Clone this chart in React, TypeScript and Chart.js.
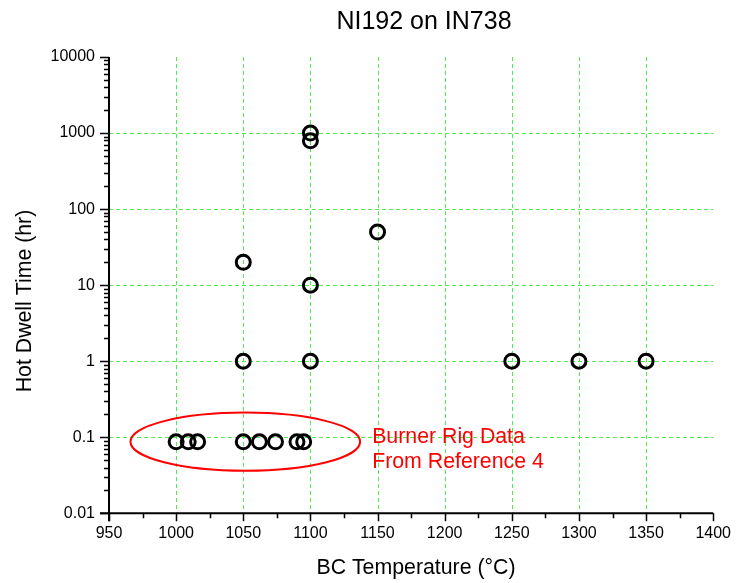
import React, { useEffect, useRef } from "react";
import { Chart, registerables } from "chart.js";

Chart.register(...registerables);

const chartTitle = "NI192 on IN738";
const xAxisTitle = "BC Temperature (°C)";
const yAxisTitle = "Hot Dwell Time (hr)";

const xTickValues = [950, 1000, 1050, 1100, 1150, 1200, 1250, 1300, 1350, 1400];
const yTickValues = [0.01, 0.1, 1, 10, 100, 1000, 10000];
const yTickLabels = ["0.01", "0.1", "1", "10", "100", "1000", "10000"];

const burnerTemps = [1000, 1009, 1016, 1050, 1062, 1074, 1090, 1095];
const burnerDwell = [0.087, 0.087, 0.087, 0.087, 0.087, 0.087, 0.087, 0.087];

const otherTemps = [1050, 1050, 1100, 1100, 1100, 1100, 1150, 1250, 1300, 1350];
const otherDwell = [1, 20, 1, 10, 790, 1000, 50, 1, 1, 1];

const noteLines = ["Burner Rig Data", "From Reference 4"];
// ellipse bounds in data units
const ellipseX = [966, 1137];
const ellipseY = [0.0363, 0.211];
const noteX = 1146;
const noteY = [0.0848, 0.039];

const FONT = "'Liberation Sans', Arial, sans-serif";
const GRID = "rgb(80,235,80)";

const gridPlugin = {
  id: "customGrid",
  beforeDatasetsDraw(chart: any) {
    const ctx = chart.ctx;
    const xs = chart.scales.x;
    const ys = chart.scales.y;
    const area = chart.chartArea;
    ctx.save();
    ctx.strokeStyle = GRID;
    ctx.lineWidth = 1;
    ctx.setLineDash([4, 3]);
    ctx.beginPath();
    xTickValues.slice(1, -1).forEach((v) => {
      const px = Math.round(xs.getPixelForValue(v)) + 0.5;
      ctx.moveTo(px, area.top);
      ctx.lineTo(px, area.bottom);
    });
    yTickValues.slice(1, -1).forEach((v) => {
      const py = Math.round(ys.getPixelForValue(v)) + 0.5;
      ctx.moveTo(area.left, py);
      ctx.lineTo(area.right, py);
    });
    ctx.stroke();
    ctx.restore();
  },
};

const decorPlugin = {
  id: "decor",
  afterDraw(chart: any) {
    const ctx = chart.ctx;
    const xs = chart.scales.x;
    const ys = chart.scales.y;
    const area = chart.chartArea;
    ctx.save();
    // axes lines
    ctx.strokeStyle = "#000";
    ctx.lineWidth = 2;
    ctx.beginPath();
    ctx.moveTo(area.left - 9, area.bottom);
    ctx.lineTo(area.right, area.bottom);
    ctx.moveTo(area.left, area.top);
    ctx.lineTo(area.left, area.bottom + 8);
    ctx.stroke();
    // ticks
    ctx.lineWidth = 1.5;
    ctx.beginPath();
    for (let v = xTickValues[0]; v <= xTickValues[xTickValues.length - 1]; v += 25) {
      const px = Math.round(xs.getPixelForValue(v)) + 0.5;
      const major = xTickValues.includes(v);
      ctx.moveTo(px, area.bottom);
      ctx.lineTo(px, area.bottom + (major ? 8 : 5));
    }
    for (let d = 0; d < yTickValues.length; d++) {
      const base = yTickValues[d];
      const py = Math.round(ys.getPixelForValue(base)) + 0.5;
      ctx.moveTo(area.left, py);
      ctx.lineTo(area.left - 9, py);
      if (d < yTickValues.length - 1) {
        for (let m = 2; m <= 9; m++) {
          const pm = Math.round(ys.getPixelForValue(base * m)) + 0.5;
          ctx.moveTo(area.left + 1, pm);
          ctx.lineTo(area.left - 5, pm);
        }
      }
    }
    ctx.stroke();

    // ellipse
    const x1 = xs.getPixelForValue(ellipseX[0]);
    const x2 = xs.getPixelForValue(ellipseX[1]);
    const y1 = ys.getPixelForValue(ellipseY[0]);
    const y2 = ys.getPixelForValue(ellipseY[1]);
    ctx.strokeStyle = "#ff0000";
    ctx.lineWidth = 2;
    ctx.beginPath();
    ctx.ellipse((x1 + x2) / 2, (y1 + y2) / 2, Math.abs(x2 - x1) / 2, Math.abs(y1 - y2) / 2, 0, 0, Math.PI * 2);
    ctx.stroke();

    // note text
    ctx.fillStyle = "#ff0000";
    ctx.font = `21.3px ${FONT}`;
    ctx.textAlign = "left";
    ctx.textBaseline = "alphabetic";
    noteLines.forEach((t, i) => {
      ctx.fillText(t, xs.getPixelForValue(noteX), ys.getPixelForValue(noteY[i]));
    });

    // title
    ctx.fillStyle = "#000";
    ctx.font = `25px ${FONT}`;
    ctx.textAlign = "center";
    ctx.fillText(chartTitle, 424, 29);

    // x title
    ctx.font = `21.3px ${FONT}`;
    ctx.fillText(xAxisTitle, 416, 574);

    // y title
    ctx.save();
    ctx.translate(31, 301);
    ctx.rotate(-Math.PI / 2);
    ctx.fillText(yAxisTitle, 0, 0);
    ctx.restore();

    ctx.restore();
  },
};

export default function App() {
  const ref = useRef<HTMLCanvasElement | null>(null);
  useEffect(() => {
    if (!ref.current) return;
    const pointStyle = {
      pointStyle: "circle",
      pointRadius: 7,
      pointBorderWidth: 3,
      pointBorderColor: "#000",
      pointBackgroundColor: "rgba(0,0,0,0)",
      showLine: false,
    };
    const chart = new Chart(ref.current, {
      type: "scatter",
      data: {
        datasets: [
          {
            label: "Burner",
            data: burnerTemps.map((x, i) => ({ x, y: burnerDwell[i] })),
            ...pointStyle,
          } as any,
          {
            label: "Other",
            data: otherTemps.map((x, i) => ({ x, y: otherDwell[i] })),
            ...pointStyle,
          } as any,
        ],
      },
      options: {
        responsive: false,
        animation: false,
        layout: { padding: { top: 57, right: 19.5, left: 0, bottom: 0 } },
        plugins: {
          legend: { display: false },
          title: { display: false },
          tooltip: { enabled: false },
        },
        scales: {
          x: {
            type: "linear",
            min: 950,
            max: 1400,
            afterBuildTicks: (s: any) => {
              s.ticks = xTickValues.map((v) => ({ value: v }));
            },
            afterFit: (s: any) => {
              s.height = 69.7;
            },
            ticks: {
              color: "#000",
              font: { family: FONT, size: 16 },
              padding: 11,
              maxRotation: 0,
              autoSkip: false,
              callback: (v: any) => String(v),
            },
            grid: { display: false, drawTicks: false },
            border: { display: false },
          } as any,
          y: {
            type: "logarithmic",
            min: 0.01,
            max: 10000,
            afterBuildTicks: (s: any) => {
              s.ticks = yTickValues.map((v) => ({ value: v }));
            },
            afterFit: (s: any) => {
              s.width = 109;
            },
            ticks: {
              color: "#000",
              font: { family: FONT, size: 16 },
              padding: 14,
              autoSkip: false,
              callback: (v: any) => {
                const i = yTickValues.findIndex((t) => Math.abs(t - v) / t < 1e-6);
                return i >= 0 ? yTickLabels[i] : "";
              },
            },
            grid: { display: false, drawTicks: false },
            border: { display: false },
          } as any,
        },
      },
      plugins: [gridPlugin, decorPlugin],
    } as any);
    return () => chart.destroy();
  }, []);
  return (
    <div style={{ position: "fixed", left: 0, top: 0, width: 742, height: 583, background: "#fff" }}>
      <canvas ref={ref} width={742} height={583} style={{ display: "block" }} />
    </div>
  );
}
